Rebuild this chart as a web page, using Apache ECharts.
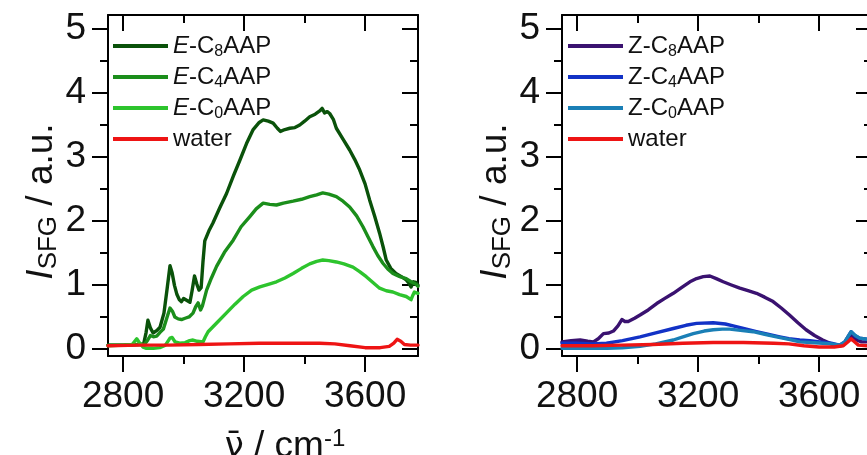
<!DOCTYPE html>
<html>
<head>
<meta charset="utf-8">
<script src="https://cdn.jsdelivr.net/npm/echarts@6/dist/echarts.min.js"></script>
<style>
html,body{margin:0;padding:0;background:#fff;}
#chart{width:867px;height:455px;}
</style>
</head>
<body>
<div id="chart"></div>
<script>
// ---------- data (wavenumber cm^-1, I_SFG a.u.) ----------
const majorX = [2800, 3200, 3600];
const minorX = [3000, 3400];
const majorY = [0, 1, 2, 3, 4, 5];
const minorY = [0.5, 1.5, 2.5, 3.5, 4.5];

const eC8 = [[2750,0.05],[2800,0.05],[2850,0.06],[2868,0.07],[2876,0.25],[2882,0.44],[2890,0.32],[2899,0.24],[2912,0.28],[2922,0.33],[2935,0.55],[2946,0.95],[2955,1.29],[2962,1.18],[2970,0.98],[2978,0.84],[2986,0.76],[2993,0.73],[3000,0.78],[3006,0.80],[3014,0.74],[3021,0.72],[3028,0.90],[3036,1.13],[3044,1.00],[3051,0.91],[3058,0.95],[3064,1.35],[3070,1.68],[3085,1.85],[3097,1.96],[3120,2.20],[3142,2.42],[3165,2.70],[3186,2.94],[3208,3.20],[3230,3.42],[3250,3.53],[3263,3.57],[3280,3.55],[3296,3.52],[3310,3.44],[3320,3.39],[3335,3.42],[3351,3.44],[3368,3.45],[3384,3.49],[3400,3.55],[3417,3.62],[3435,3.66],[3450,3.71],[3458,3.75],[3466,3.68],[3475,3.70],[3483,3.67],[3495,3.58],[3505,3.44],[3527,3.27],[3549,3.10],[3566,2.95],[3582,2.79],[3600,2.57],[3615,2.32],[3632,2.06],[3648,1.80],[3660,1.58],[3670,1.38],[3685,1.25],[3702,1.17],[3720,1.12],[3736,1.07],[3745,1.02],[3752,0.96],[3760,1.04],[3768,1.03],[3775,0.99]];
const eC4 = [[2750,0.05],[2800,0.05],[2850,0.06],[2870,0.06],[2880,0.12],[2890,0.20],[2900,0.18],[2911,0.19],[2922,0.25],[2933,0.30],[2945,0.48],[2955,0.63],[2963,0.58],[2971,0.49],[2982,0.46],[2993,0.45],[3005,0.47],[3018,0.49],[3031,0.55],[3040,0.65],[3048,0.71],[3056,0.60],[3062,0.66],[3076,0.91],[3092,1.10],[3109,1.28],[3135,1.50],[3164,1.69],[3190,1.90],[3219,2.06],[3240,2.18],[3263,2.27],[3285,2.25],[3307,2.24],[3330,2.27],[3362,2.30],[3390,2.33],[3417,2.37],[3440,2.40],[3460,2.43],[3480,2.41],[3505,2.37],[3527,2.30],[3549,2.21],[3572,2.07],[3593,1.90],[3610,1.74],[3626,1.59],[3642,1.45],[3659,1.33],[3675,1.24],[3692,1.17],[3715,1.12],[3736,1.09],[3752,1.04],[3768,1.00],[3775,0.97]];
const eC0 = [[2750,0.04],[2800,0.05],[2830,0.06],[2845,0.15],[2855,0.08],[2866,0.02],[2877,0.00],[2900,0.00],[2921,0.01],[2940,0.05],[2955,0.16],[2962,0.17],[2972,0.10],[2987,0.08],[3005,0.09],[3020,0.12],[3031,0.13],[3045,0.11],[3064,0.10],[3072,0.18],[3081,0.26],[3110,0.40],[3141,0.55],[3170,0.69],[3197,0.81],[3225,0.91],[3252,0.96],[3280,1.00],[3307,1.04],[3335,1.10],[3362,1.17],[3390,1.25],[3417,1.32],[3440,1.36],[3460,1.38],[3480,1.37],[3505,1.35],[3530,1.32],[3560,1.27],[3582,1.20],[3604,1.12],[3626,1.03],[3648,0.94],[3670,0.90],[3692,0.88],[3714,0.84],[3736,0.81],[3752,0.76],[3758,0.83],[3763,0.88],[3775,0.86]];
const waterE = [[2750,0.04],[2850,0.05],[2950,0.05],[3050,0.06],[3150,0.07],[3250,0.08],[3350,0.08],[3450,0.08],[3500,0.07],[3550,0.04],[3600,0.01],[3650,0.01],[3680,0.03],[3695,0.08],[3706,0.14],[3718,0.11],[3730,0.06],[3750,0.05],[3775,0.05]];

const zC8 = [[2750,0.10],[2780,0.12],[2810,0.13],[2835,0.11],[2854,0.10],[2870,0.15],[2887,0.23],[2905,0.24],[2920,0.27],[2935,0.35],[2948,0.45],[2958,0.42],[2969,0.42],[2990,0.47],[3008,0.52],[3035,0.60],[3063,0.70],[3090,0.78],[3118,0.86],[3145,0.95],[3173,1.04],[3195,1.09],[3217,1.12],[3239,1.13],[3260,1.09],[3283,1.04],[3310,0.99],[3338,0.94],[3365,0.90],[3393,0.86],[3420,0.80],[3448,0.73],[3475,0.63],[3502,0.52],[3530,0.40],[3557,0.29],[3585,0.20],[3612,0.13],[3640,0.07],[3663,0.03],[3680,0.05],[3695,0.12],[3706,0.20],[3720,0.14],[3740,0.10],[3775,0.10]];
const zC4 = [[2750,0.08],[2800,0.08],[2850,0.07],[2897,0.08],[2950,0.12],[3008,0.18],[3060,0.24],[3118,0.31],[3160,0.36],[3195,0.39],[3250,0.40],[3290,0.38],[3316,0.35],[3350,0.31],[3393,0.26],[3430,0.22],[3470,0.18],[3500,0.15],[3536,0.13],[3570,0.12],[3602,0.10],[3640,0.08],[3668,0.05],[3685,0.10],[3706,0.26],[3720,0.19],[3734,0.16],[3760,0.14],[3775,0.14]];
const zC0 = [[2750,0.00],[2800,0.00],[2850,0.00],[2900,0.00],[2950,0.01],[3008,0.03],[3060,0.07],[3118,0.13],[3150,0.18],[3184,0.23],[3220,0.27],[3250,0.29],[3280,0.30],[3305,0.30],[3340,0.28],[3382,0.26],[3420,0.22],[3459,0.18],[3500,0.14],[3536,0.10],[3570,0.09],[3612,0.08],[3640,0.07],[3668,0.05],[3685,0.10],[3706,0.26],[3720,0.20],[3734,0.16],[3760,0.14],[3775,0.14]];
const waterZ = [[2750,0.04],[2850,0.04],[2950,0.05],[3050,0.06],[3150,0.08],[3250,0.09],[3350,0.09],[3450,0.08],[3500,0.07],[3550,0.04],[3600,0.02],[3650,0.02],[3680,0.04],[3695,0.10],[3706,0.15],[3718,0.10],[3730,0.05],[3760,0.04],[3775,0.04]];

const namesE = ['E-C8AAP', 'E-C4AAP', 'E-C0AAP', 'water'];
const namesZ = ['Z-C8AAP', 'Z-C4AAP', 'Z-C0AAP', 'water'];
const richNames = {
  'E-C8AAP': '{i|E}{n|-C}{s|8}{n|AAP}',
  'E-C4AAP': '{i|E}{n|-C}{s|4}{n|AAP}',
  'E-C0AAP': '{i|E}{n|-C}{s|0}{n|AAP}',
  'Z-C8AAP': '{n|Z-C}{s|8}{n|AAP}',
  'Z-C4AAP': '{n|Z-C}{s|4}{n|AAP}',
  'Z-C0AAP': '{n|Z-C}{s|0}{n|AAP}',
  'water': '{n|water}'
};
const xMin = 2750, xMax = 3775, yMin = -0.12, yMax = 5.21;

// ---------- styling ----------
const FONT = 'Liberation Sans, Arial, sans-serif';
const BLACK = '#000';
const legendRich = {
  n: {fontFamily: FONT, fontSize: 24, color: '#111', lineHeight: 28},
  i: {fontFamily: FONT, fontSize: 24, color: '#111', fontStyle: 'italic', lineHeight: 28},
  s: {fontFamily: FONT, fontSize: 16, color: '#111', lineHeight: 8, verticalAlign: 'bottom'}
};
const plain = v => String(v);

function xAxes(gridIndex, withName) {
  const base = {type: 'value', gridIndex, min: xMin, max: xMax, splitLine: {show: false}};
  return [
    Object.assign({}, base, {
      position: 'bottom',
      axisLine: {show: true, onZero: false, lineStyle: {color: BLACK, width: 2}},
      axisTick: {show: true, inside: false, length: 16, customValues: majorX, lineStyle: {color: BLACK, width: 2}},
      axisLabel: {show: true, customValues: majorX, formatter: plain, fontFamily: FONT, fontSize: 37, color: '#111', margin: 22},
      name: withName ? '{nu|ν̄}{n| / cm}{sup|-1}' : '',
      nameLocation: 'middle', nameGap: 71,
      nameTextStyle: {padding: [0, 0, 0, 44], rich: {
        nu: {fontFamily: 'DejaVu Sans', fontSize: 34, color: '#111', lineHeight: 40},
        n: {fontFamily: FONT, fontSize: 37, color: '#111', lineHeight: 40},
        sup: {fontFamily: FONT, fontSize: 24, color: '#111', verticalAlign: 'top', lineHeight: 24}
      }}
    }),
    Object.assign({}, base, {
      position: 'bottom',
      axisLine: {show: false, onZero: false},
      axisTick: {show: true, inside: false, length: 8, customValues: minorX, lineStyle: {color: BLACK, width: 2}},
      axisLabel: {show: false}
    }),
    Object.assign({}, base, {
      position: 'top',
      axisLine: {show: true, onZero: false, lineStyle: {color: BLACK, width: 2}},
      axisTick: {show: true, inside: true, length: 16, customValues: majorX, lineStyle: {color: BLACK, width: 2}},
      axisLabel: {show: false}
    }),
    Object.assign({}, base, {
      position: 'top',
      axisLine: {show: false, onZero: false},
      axisTick: {show: true, inside: true, length: 8, customValues: minorX, lineStyle: {color: BLACK, width: 2}},
      axisLabel: {show: false}
    })
  ];
}
function yAxes(gridIndex) {
  const base = {type: 'value', gridIndex, min: yMin, max: yMax, splitLine: {show: false}};
  return [
    Object.assign({}, base, {
      position: 'left',
      axisLine: {show: true, onZero: false, lineStyle: {color: BLACK, width: 2}},
      axisTick: {show: true, inside: false, length: 16, customValues: majorY, lineStyle: {color: BLACK, width: 2}},
      axisLabel: {show: true, customValues: majorY, formatter: plain, fontFamily: FONT, fontSize: 37, color: '#111', margin: 22},
      name: '{i|I}{s|SFG}{n| / a.u.}',
      nameLocation: 'middle', nameRotate: 90, nameGap: 44,
      nameTextStyle: {padding: [0, 32, 0, 0], rich: {
        i: {fontFamily: FONT, fontSize: 37, fontStyle: 'italic', color: '#111', lineHeight: 40},
        s: {fontFamily: FONT, fontSize: 26, color: '#111', verticalAlign: 'bottom', lineHeight: 16},
        n: {fontFamily: FONT, fontSize: 37, color: '#111', lineHeight: 40}
      }}
    }),
    Object.assign({}, base, {
      position: 'left',
      axisLine: {show: false, onZero: false},
      axisTick: {show: true, inside: false, length: 8, customValues: minorY, lineStyle: {color: BLACK, width: 2}},
      axisLabel: {show: false}
    }),
    Object.assign({}, base, {
      position: 'right',
      axisLine: {show: true, onZero: false, lineStyle: {color: BLACK, width: 2}},
      axisTick: {show: true, inside: true, length: 16, customValues: majorY, lineStyle: {color: BLACK, width: 2}},
      axisLabel: {show: false}
    }),
    Object.assign({}, base, {
      position: 'right',
      axisLine: {show: false, onZero: false},
      axisTick: {show: true, inside: true, length: 8, customValues: minorY, lineStyle: {color: BLACK, width: 2}},
      axisLabel: {show: false}
    })
  ];
}
function line(name, data, color, xi, yi) {
  return {
    type: 'line', name, data, xAxisIndex: xi, yAxisIndex: yi,
    showSymbol: false, symbol: 'none', animation: false, clip: true,
    color, lineStyle: {color, width: 3.4, join: 'round', cap: 'round'}
  };
}
function legend(names, left) {
  return {
    orient: 'vertical', left, top: 34, data: names, padding: 0,
    icon: 'rect', itemWidth: 55, itemHeight: 4, itemGap: 5,
    selectedMode: false,
    formatter: n => richNames[n],
    textStyle: {rich: legendRich, padding: [0,0,0,0]}
  };
}

const chart = echarts.init(document.getElementById('chart'), null, {renderer: 'canvas'});
chart.setOption({
  animation: false,
  backgroundColor: '#fff',
  grid: [
    {left: 108, top: 15, width: 310, height: 341, containLabel: false, outerBoundsMode: 'none'},
    {left: 562, top: 15, width: 310, height: 341, containLabel: false, outerBoundsMode: 'none'}
  ],
  xAxis: xAxes(0, true).concat(xAxes(1, false)),
  yAxis: yAxes(0).concat(yAxes(1)),
  legend: [legend(namesE, 113), legend(namesZ, 568)],
  series: [
    line('E-C8AAP', eC8, '#0a520a', 0, 0),
    line('E-C4AAP', eC4, '#1b8e1b', 0, 0),
    line('E-C0AAP', eC0, '#2dc42d', 0, 0),
    line('water', waterE, '#ee1414', 0, 0),
    line('Z-C8AAP', zC8, '#3a1270', 4, 4),
    line('Z-C4AAP', zC4, '#1232c6', 4, 4),
    line('Z-C0AAP', zC0, '#1a7fb6', 4, 4),
    line('water', waterZ, '#ee1414', 4, 4)
  ]
});
</script>
</body>
</html>
